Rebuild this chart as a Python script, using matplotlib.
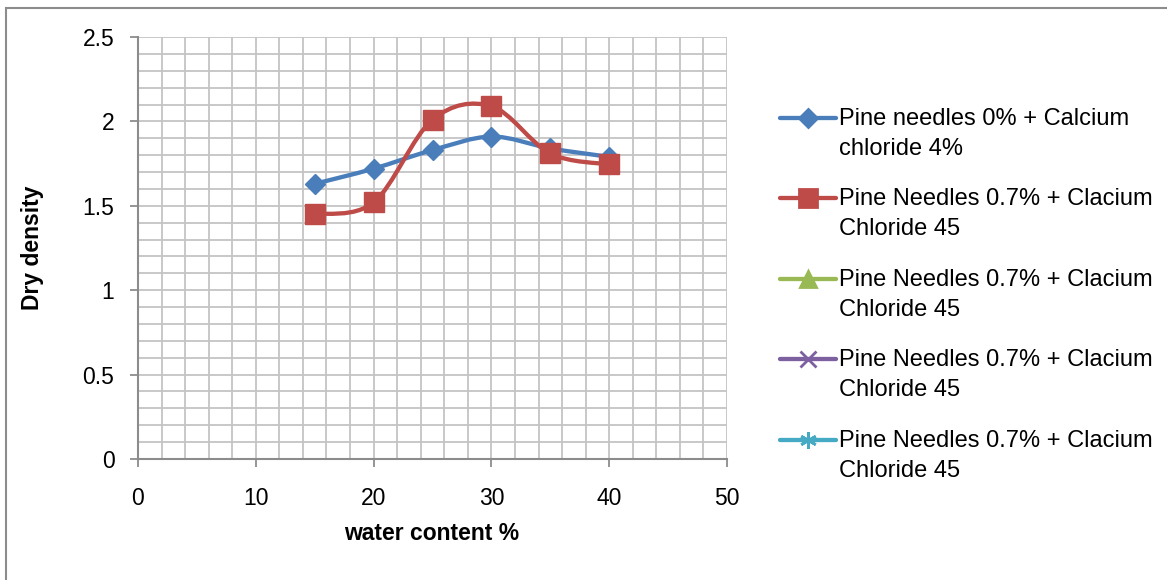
import numpy as np
import matplotlib
matplotlib.use("Agg")
import matplotlib.pyplot as plt
from matplotlib.path import Path
from matplotlib.patches import PathPatch, Rectangle
from matplotlib.lines import Line2D

# data
water_content = [15, 20, 25, 30, 35, 40]
pine_0 = [1.63, 1.72, 1.83, 1.91, 1.84, 1.79]
pine_07 = [1.45, 1.52, 2.01, 2.09, 1.81, 1.745]

labels = [
    ("Pine needles 0% + Calcium", "chloride 4%"),
    ("Pine Needles 0.7% + Clacium", "Chloride 45"),
    ("Pine Needles 0.7% + Clacium", "Chloride 45"),
    ("Pine Needles 0.7% + Clacium", "Chloride 45"),
    ("Pine Needles 0.7% + Clacium", "Chloride 45"),
]
colors = ["#4A7EBB", "#BE4B48", "#98B954", "#7D60A0", "#46AAC5"]
markers = ["D", "s", "^", "x", (6, 2, 0)]

W, H = 1167, 580
FONT = ["Liberation Sans", "DejaVu Sans"]
plt.rcParams["font.family"] = FONT


def px(x, y):
    return x / W, 1 - y / H


def smooth_path(xs, ys):
    # Excel style smoothed line (Catmull-Rom as cubic bezier)
    pts = np.column_stack([xs, ys]).astype(float)
    n = len(pts)
    verts = [pts[0]]
    codes = [Path.MOVETO]
    for i in range(n - 1):
        p0 = pts[max(i - 1, 0)]
        p1 = pts[i]
        p2 = pts[i + 1]
        p3 = pts[min(i + 2, n - 1)]
        verts += [p1 + (p2 - p0) / 6, p2 - (p3 - p1) / 6, p2]
        codes += [Path.CURVE4] * 3
    return Path(verts, codes)


fig = plt.figure(figsize=(W / 100, H / 100), dpi=100)
l, b = px(138, 459)
r, t = px(727, 37)
ax = fig.add_axes([l, b, r - l, t - b])

series = [pine_0, pine_07]
msizes = [10, 14]
for ys, c, m, ms in zip(series, colors, markers, msizes):
    ax.add_patch(PathPatch(smooth_path(water_content, ys), fill=False,
                           edgecolor=c, lw=3.1, zorder=3, capstyle="round"))
    ax.plot(water_content, ys, ls="none", marker=m, ms=ms, color=c, zorder=4)

ax.set_xlim(0, 50)
ax.set_ylim(0, 2.5)
ax.set_xticks(np.arange(0, 51, 10))
ax.set_xticks(np.arange(0, 51, 2), minor=True)
ax.set_yticks(np.arange(0, 2.51, 0.5))
ax.set_yticks(np.arange(0, 2.51, 0.1), minor=True)
ax.set_yticklabels(["0", "0.5", "1", "1.5", "2", "2.5"])
ax.grid(True, which="both", color="#C4C4C4", lw=1.3)
ax.set_axisbelow(True)
for s in ["top", "right"]:
    ax.spines[s].set_visible(False)
for s in ["left", "bottom"]:
    ax.spines[s].set_color("#8C8C8C")
    ax.spines[s].set_linewidth(1.5)
ax.tick_params(which="major", length=6, width=1.3, color="#8C8C8C",
               labelsize=16.5)
ax.tick_params(which="minor", length=0)
ax.tick_params(axis="y", pad=11)
ax.tick_params(axis="x", pad=14)

fig.text(*px(33, 248), "Dry density", rotation=90, ha="center", va="center",
         fontsize=16.5, fontweight="bold")
fig.text(*px(432, 533), "water content %", ha="center", va="center",
         fontsize=16.5, fontweight="bold")

# legend drawn by hand so the marker sits on the first text line
leg_ms = [9, 13, 11, 11, 12]
for i, ((line1, line2), c, m) in enumerate(zip(labels, colors, markers)):
    y = 118 + i * 80.4
    x0, y0 = px(780, y)
    x1, _ = px(836, y)
    fig.add_artist(Line2D([x0, x1], [y0, y0], color=c, lw=3.1,
                          solid_capstyle="round", transform=fig.transFigure))
    fig.add_artist(Line2D([(x0 + x1) / 2], [y0], color=c, marker=m, ms=leg_ms[i],
                          mew=2, ls="none", transform=fig.transFigure))
    fig.text(*px(839, y + 1), line1, ha="left", va="center", fontsize=17)
    fig.text(*px(839, y + 31), line2, ha="left", va="center", fontsize=17)

# chart frame
fx, fy = px(6, 8)
fig.add_artist(Rectangle((fx, -0.1), 1.2, fy + 0.1, fill=False,
                         edgecolor="#8C8C8C", lw=1.5, transform=fig.transFigure))

fig.savefig("out.png", dpi=100)
